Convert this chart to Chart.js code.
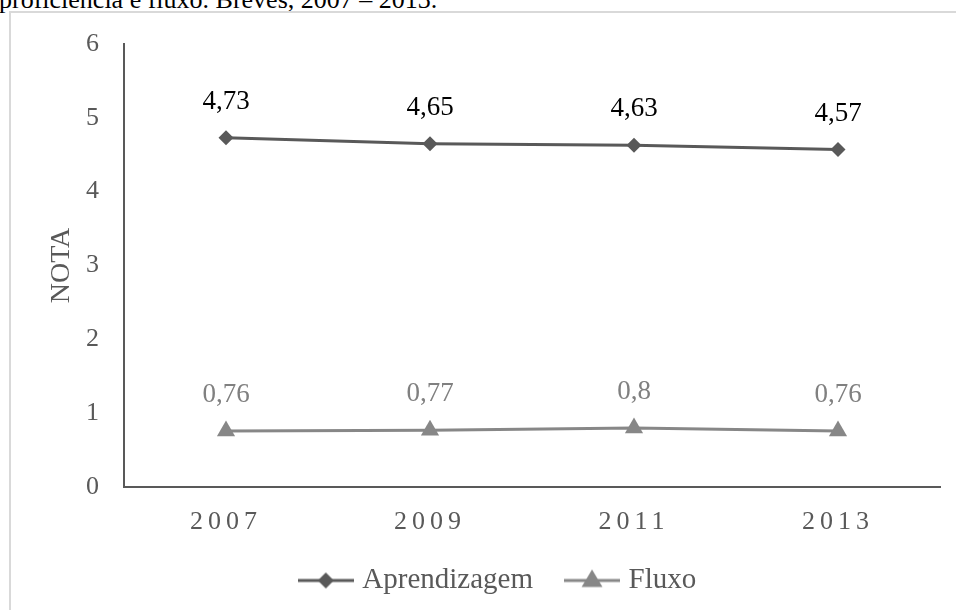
<!DOCTYPE html>
<html>
<head>
<meta charset="utf-8">
<script src="https://cdn.jsdelivr.net/npm/chart.js@4.4.0/dist/chart.umd.min.js"></script>
<style>
  html, body { margin: 0; padding: 0; background: #fff; overflow: hidden; }
  body { width: 956px; height: 610px; position: relative; }
  #caption {
    position: absolute; left: -1px; top: -13px;
    font: 26px "Liberation Serif", "Times New Roman", serif;
    line-height: 26px; color: #000; white-space: nowrap;
  }
  #frame {
    position: absolute; left: 9px; top: 11px; width: 1000px; height: 700px;
    border: 2px solid #d9d9d9; box-sizing: border-box;
  }
  #chart { position: absolute; left: 0; top: 0; }
</style>
</head>
<body>
<div id="caption">proficiência e fluxo. Breves, 2007 – 2013.</div>
<div id="frame"></div>
<canvas id="chart" width="956" height="610"></canvas>
<script>
document.addEventListener('DOMContentLoaded', function() {
    // dados
    const anos = ['2007', '2009', '2011', '2013'];
    const aprendizagem = [4.73, 4.65, 4.63, 4.57];
    const fluxo = [0.76, 0.77, 0.8, 0.76];
    const yTicks = [0, 1, 2, 3, 4, 5, 6];

    const serif = '"Liberation Serif", "Times New Roman", serif';
    const corAprend = '#595959';
    const corFluxo = '#878787';

    // marcador da legenda: linha + ponto
    function legendMark(cor, estilo, r) {
        const c = document.createElement('canvas');
        c.width = 56; c.height = 24;
        const g = c.getContext('2d');
        g.strokeStyle = cor; g.lineWidth = 3;
        g.beginPath(); g.moveTo(0, 12); g.lineTo(56, 12); g.stroke();
        g.fillStyle = cor;
        g.beginPath();
        if (estilo === 'diamond') {
            g.moveTo(28, 12 - r); g.lineTo(28 + r, 12); g.lineTo(28, 12 + r); g.lineTo(28 - r, 12);
        } else {
            g.moveTo(28, 12 - r); g.lineTo(28 + r * 0.95, 12 + r * 0.6); g.lineTo(28 - r * 0.95, 12 + r * 0.6);
        }
        g.closePath(); g.fill();
        return c;
    }
    const marcas = [legendMark(corAprend, 'diamond', 8), legendMark(corFluxo, 'triangle', 11)];

    // rótulos de dados
    const labelsPlugin = {
        id: 'rotulos',
        afterDatasetsDraw(chart) {
            const ctx = chart.ctx;
            const cores = ['#000000', '#808080'];
            chart.data.datasets.forEach((ds, i) => {
                const meta = chart.getDatasetMeta(i);
                ctx.save();
                ctx.font = '27px ' + serif;
                ctx.fillStyle = cores[i];
                ctx.textAlign = 'center';
                ctx.textBaseline = 'middle';
                meta.data.forEach((pt, j) => {
                    ctx.fillText(String(ds.data[j]).replace('.', ','), pt.x, pt.y - 36);
                });
                ctx.restore();
            });
        }
    };

    // espaçamento das letras no eixo x
    const spacingPlugin = {
        id: 'espaco',
        beforeDraw(chart) {
            const s = chart.scales.x;
            if (s && !s._espaco) {
                const orig = s.drawLabels;
                s.drawLabels = function(area) {
                    this.ctx.save();
                    this.ctx.letterSpacing = '5px';
                    orig.call(this, area);
                    this.ctx.restore();
                };
                s._espaco = true;
            }
        }
    };

    const ctx = document.getElementById('chart').getContext('2d');
    new Chart(ctx, {
        type: 'line',
        data: {
            labels: anos,
            datasets: [{
                label: 'Aprendizagem',
                data: aprendizagem,
                borderColor: corAprend,
                backgroundColor: corAprend,
                borderWidth: 3,
                pointStyle: 'rectRot',
                pointRadius: 7.5,
                pointBorderWidth: 0,
                tension: 0
            }, {
                label: 'Fluxo',
                data: fluxo,
                borderColor: corFluxo,
                backgroundColor: corFluxo,
                borderWidth: 3,
                pointStyle: 'triangle',
                pointRadius: 10.5,
                pointBorderWidth: 0,
                tension: 0
            }]
        },
        options: {
            responsive: false,
            animation: false,
            layout: { padding: { top: 44, right: 16, left: 60, bottom: 5 } },
            scales: {
                x: {
                    offset: true,
                    grid: { display: false, drawTicks: false },
                    border: { display: true, color: '#595959', width: 2 },
                    ticks: { color: '#595959', padding: 20, font: { family: serif, size: 26 } },
                    afterFit(scale) { scale.height = 42; }
                },
                y: {
                    min: 0, max: 6,
                    afterBuildTicks(scale) { scale.ticks = yTicks.map(v => ({ value: v })); },
                    grid: { display: false, drawTicks: false },
                    border: { display: true, color: '#595959', width: 2 },
                    ticks: { color: '#595959', padding: 25, font: { family: serif, size: 26 } },
                    title: {
                        display: true, text: 'NOTA', color: '#595959',
                        padding: { top: -15, bottom: 0 },
                        font: { family: serif, size: 28 }
                    },
                    afterFit(scale) { scale.width = 64; }
                }
            },
            plugins: {
                tooltip: { enabled: false },
                legend: {
                    position: 'bottom',
                    labels: {
                        color: '#595959',
                        font: { family: serif, size: 29 },
                        usePointStyle: true,
                        pointStyleWidth: 44,
                        padding: 37,
                        generateLabels(chart) {
                            const items = Chart.defaults.plugins.legend.labels.generateLabels(chart);
                            items.forEach((it, i) => { it.pointStyle = marcas[i]; });
                            return items;
                        }
                    }
                }
            }
        },
        plugins: [labelsPlugin, spacingPlugin]
    });
});
</script>
</body>
</html>
